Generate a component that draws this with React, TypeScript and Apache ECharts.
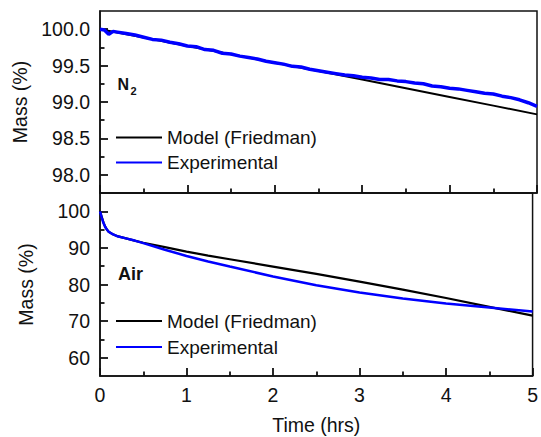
import React, { useEffect, useRef } from "react";
import * as echarts from "echarts";

// ---- data ----
const seriesNames = ["Model (Friedman)", "Experimental"];

const n2ModelTime = [0, 0.5, 1, 1.5, 2, 2.5, 3, 3.5, 4, 4.5, 5];
const n2ModelMass = [100, 99.885, 99.77, 99.655, 99.54, 99.425, 99.31, 99.19, 99.07, 98.95, 98.83];

const n2ExpTime = [
  0, 0.05, 0.1, 0.15, 0.2, 0.3, 0.4, 0.5, 0.6, 0.7, 0.8, 0.9, 1.0, 1.1, 1.2, 1.3, 1.4, 1.5, 1.6, 1.7, 1.8, 1.9,
  2.0, 2.1, 2.2, 2.3, 2.4, 2.5, 2.6, 2.7, 2.8, 2.9, 3.0, 3.1, 3.2, 3.3, 3.4, 3.5, 3.6, 3.7, 3.8, 3.9,
  4.0, 4.1, 4.2, 4.3, 4.4, 4.5, 4.6, 4.7, 4.8, 4.9, 5.0,
];
const n2ExpMass = [
  100.0, 99.99, 99.93, 99.97, 99.96, 99.94, 99.92, 99.89, 99.86, 99.85, 99.82, 99.8, 99.77, 99.76, 99.72, 99.71,
  99.67, 99.66, 99.63, 99.61, 99.59, 99.56, 99.54, 99.52, 99.49, 99.48, 99.45, 99.43, 99.41, 99.39, 99.37,
  99.36, 99.34, 99.33, 99.31, 99.31, 99.29, 99.28, 99.26, 99.25, 99.22, 99.21, 99.19, 99.18, 99.16, 99.14,
  99.12, 99.11, 99.08, 99.06, 99.03, 98.99, 98.94,
];

const airTime = [0, 0.02, 0.04, 0.06, 0.08, 0.1, 0.15, 0.2, 0.3, 0.4, 0.5, 0.75, 1, 1.25, 1.5, 2, 2.5, 3, 3.5, 4, 4.5, 5];
const airModelMass = [100, 98.5, 97.0, 95.8, 95.0, 94.4, 93.7, 93.2, 92.6, 92.0, 91.4, 90.2, 89.0, 87.9, 86.9, 84.9, 82.9, 80.8, 78.6, 76.3, 73.9, 71.5];
const airExpMass = [100, 98.3, 96.8, 95.7, 95.0, 94.4, 93.7, 93.2, 92.6, 92.0, 91.3, 89.5, 87.8, 86.3, 84.9, 82.2, 79.8, 77.8, 76.2, 74.8, 73.7, 72.6];

const xMin = 0;
const xMax = 5;
const n2YMin = 97.75;
const n2YMax = 100.25;
const n2Labels = [98, 98.5, 99, 99.5, 100];
const n2Minor = [98.25, 98.75, 99.25, 99.75];
const airYMin = 55;
const airYMax = 105;
const airLabels = [60, 70, 80, 90, 100];
const airMinor = [65, 75, 85, 95];

const zip = (t: number[], v: number[]) => t.map((x, i) => [x, v[i]]);

const FONT = "'Liberation Sans', Arial, sans-serif";
const AX = "#111111";
const TXT = "#111";
const FS = 19.5;

export default function App() {
  const ref = useRef<HTMLDivElement>(null);
  useEffect(() => {
    document.body.style.margin = "0";
    if (!ref.current) return;
    const chart = echarts.init(ref.current, undefined, { renderer: "svg" });

    const xBase = (grid: number, labels: boolean) => ({
      type: "value",
      gridIndex: grid,
      min: xMin,
      max: xMax,
      interval: 1,
      axisLine: { show: true, lineStyle: { color: AX, width: 1.5 } },
      axisTick: { show: true, inside: true, length: 8, lineStyle: { color: AX, width: 1.8 } },
      minorTick: { show: true, splitNumber: 2, length: 4.5, lineStyle: { color: AX, width: 1.8 } },
      splitLine: { show: false },
      minorSplitLine: { show: false },
      axisLabel: { show: labels, margin: 9, fontSize: FS, fontFamily: FONT, color: TXT },
    });

    const yMain = (grid: number, min: number, max: number, labels: number[], digits: number) => ({
      type: "value",
      gridIndex: grid,
      position: "left",
      min,
      max,
      name: "Mass (%)",
      nameLocation: "middle",
      nameGap: 64,
      nameTextStyle: { fontSize: FS, fontFamily: FONT, color: TXT },
      axisLine: { show: true, lineStyle: { color: AX, width: 1.5 } },
      axisTick: { show: true, inside: true, length: 8, customValues: labels, lineStyle: { color: AX, width: 1.8 } },
      axisLabel: {
        show: true,
        customValues: labels,
        margin: 10,
        fontSize: FS,
        fontFamily: FONT,
        color: TXT,
        formatter: (v: number) => v.toFixed(digits),
      },
      splitLine: { show: false },
    });

    const yMinor = (grid: number, min: number, max: number, minor: number[]) => ({
      type: "value",
      gridIndex: grid,
      position: "left",
      min,
      max,
      axisLine: { show: false },
      axisTick: { show: true, inside: true, length: 4.5, customValues: minor, lineStyle: { color: AX, width: 1.8 } },
      axisLabel: { show: false },
      splitLine: { show: false },
    });

    const legendBase = (top: number, gap: number) => ({
      left: 116,
      top,
      padding: 0,
      orient: "vertical",
      itemWidth: 46,
      itemHeight: 2,
      itemGap: gap,
      icon: "rect",
      selectedMode: false,
      textStyle: { fontSize: 19, fontFamily: FONT, color: TXT },
      data: seriesNames,
    });

    chart.setOption({
      animation: false,
      backgroundColor: "#ffffff",
      grid: [
        { left: 100, top: 11, width: 437, height: 182, show: true, borderColor: AX, borderWidth: 1.5 },
        { left: 100, top: 193, width: 437, height: 183, show: true, borderColor: AX, borderWidth: 1.5 },
      ],
      xAxis: [
        xBase(0, false),
        {
          ...xBase(1, true),
          name: "Time (hrs)",
          nameLocation: "middle",
          nameGap: 39,
          nameTextStyle: { fontSize: FS, fontFamily: FONT, color: TXT },
        },
      ],
      yAxis: [
        yMain(0, n2YMin, n2YMax, n2Labels, 1),
        yMinor(0, n2YMin, n2YMax, n2Minor),
        yMain(1, airYMin, airYMax, airLabels, 0),
        yMinor(1, airYMin, airYMax, airMinor),
      ],
      legend: [legendBase(128, 6), legendBase(311.5, 7)],
      series: [
        {
          name: seriesNames[0],
          type: "line",
          xAxisIndex: 0,
          yAxisIndex: 0,
          data: zip(n2ModelTime, n2ModelMass),
          showSymbol: false,
          color: "#000000",
          lineStyle: { color: "#000000", width: 2 },
        },
        {
          name: seriesNames[1],
          type: "line",
          xAxisIndex: 0,
          yAxisIndex: 0,
          data: zip(n2ExpTime, n2ExpMass),
          showSymbol: false,
          color: "#0000ff",
          lineStyle: { color: "#0000ff", width: 3.5 },
        },
        {
          name: seriesNames[0],
          type: "line",
          xAxisIndex: 1,
          yAxisIndex: 2,
          data: zip(airTime, airModelMass),
          showSymbol: false,
          color: "#000000",
          lineStyle: { color: "#000000", width: 2.2 },
        },
        {
          name: seriesNames[1],
          type: "line",
          xAxisIndex: 1,
          yAxisIndex: 2,
          data: zip(airTime, airExpMass),
          showSymbol: false,
          color: "#0000ff",
          lineStyle: { color: "#0000ff", width: 2.5 },
        },
      ],
      graphic: [
        { type: "text", x: 117.5, y: 84, style: { text: "N", font: `bold 16px ${FONT}`, fill: TXT, textVerticalAlign: "middle", verticalAlign: "middle" } },
        { type: "text", x: 130.5, y: 90.5, style: { text: "2", font: `bold 11px ${FONT}`, fill: TXT, textVerticalAlign: "middle", verticalAlign: "middle" } },
        { type: "text", x: 118, y: 273.5, style: { text: "Air", font: `bold 18px ${FONT}`, fill: TXT, textVerticalAlign: "middle", verticalAlign: "middle" } },
      ],
    });

    return () => chart.dispose();
  }, []);

  return <div ref={ref} style={{ width: 541, height: 437 }} />;
}
